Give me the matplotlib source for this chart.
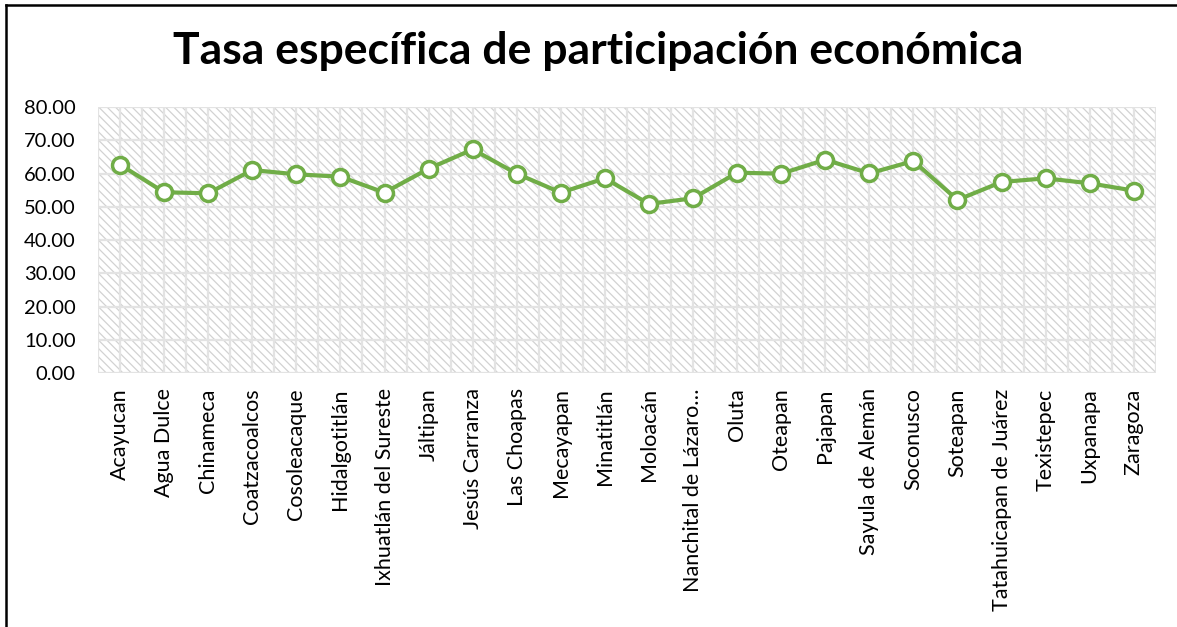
import matplotlib
matplotlib.use('Agg')
import matplotlib.pyplot as plt
from matplotlib.patches import Rectangle
from matplotlib.lines import Line2D
import numpy as np

# data ~~~~~~~~~~~~~~~~~~~~~~~~~~~~~~~~~~~~~~~~~~~~~~~~~~~~~~~~~~~~~~
municipios = ['Acayucan', 'Agua Dulce', 'Chinameca', 'Coatzacoalcos',
              'Cosoleacaque', 'Hidalgotitlán', 'Ixhuatlán del Sureste',
              'Jáltipan', 'Jesús Carranza', 'Las Choapas', 'Mecayapan',
              'Minatitlán', 'Moloacán', 'Nanchital de Lázaro…', 'Oluta',
              'Oteapan', 'Pajapan', 'Sayula de Alemán', 'Soconusco',
              'Soteapan', 'Tatahuicapan de Juárez', 'Texistepec',
              'Uxpanapa', 'Zaragoza']
tasa = [62.7, 54.4, 54.1, 61.1, 59.8, 59.1, 54.3,
        61.5, 67.3, 60.0, 54.3, 58.6, 50.9, 52.6, 60.3,
        60.0, 64.2, 60.1, 63.8, 52.1, 57.5, 58.6, 57.1, 54.9]
yticks = [0, 10, 20, 30, 40, 50, 60, 70, 80]

verde = '#70AD47'
gris = '#e3e3e3'
fnt = 'Lato'

fig = plt.figure(figsize=(11.77, 6.27), dpi=100)
ax = fig.add_axes([0.0833, 0.405, 0.8987, 0.424])

# hatched background ~~~~~~~~~~~~~~~~~~~~~~~~~~~~~~~~~~~~~~~~~~~~~~~~
plt.rcParams['hatch.color'] = '#d2d2d2'
plt.rcParams['hatch.linewidth'] = 0.9
bg = Rectangle((0, 0), 1, 1, transform=ax.transAxes, facecolor='white',
               edgecolor='#d2d2d2', hatch='\\\\\\\\', linewidth=0, zorder=0)
ax.add_patch(bg)

ax.set_xlim(-0.5, len(municipios) - 0.5)
ax.set_ylim(0, 80)

# grid: horizontal every 10, vertical every half category
for yv in yticks:
    ax.axhline(yv, color=gris, linewidth=1.6, zorder=1)
for xv in np.arange(-0.5, len(municipios), 0.5):
    ax.axvline(xv, color=gris, linewidth=1.6, zorder=1)

x = np.arange(len(municipios))
ax.plot(x, tasa, color=verde, linewidth=3.0, marker='o', markersize=11.5,
        markerfacecolor='white', markeredgecolor=verde, markeredgewidth=2.5,
        zorder=3, clip_on=False)

ax.set_yticks(yticks)
ax.set_yticklabels(['{0:.2f}'.format(v) for v in yticks],
                   fontsize=14.5, family=fnt)
ax.set_xticks(x)
ax.set_xticklabels(municipios, rotation=90, fontsize=15.5, family=fnt)
ax.tick_params(axis='y', length=0, pad=16)
ax.tick_params(axis='x', length=0, pad=11)
for s in ax.spines.values():
    s.set_visible(False)

fig.text(0.508, 0.918, 'Tasa específica de participación económica',
         ha='center', va='center', fontsize=32, fontweight='bold', family=fnt)

# frame lines on top and left
fig.add_artist(Line2D([6/1177, 1], [1 - 5/627, 1 - 5/627],
                      transform=fig.transFigure, color='black', linewidth=1.8))
fig.add_artist(Line2D([6/1177, 6/1177], [0, 1 - 5/627],
                      transform=fig.transFigure, color='black', linewidth=1.8))

fig.savefig('out.png', dpi=100)
